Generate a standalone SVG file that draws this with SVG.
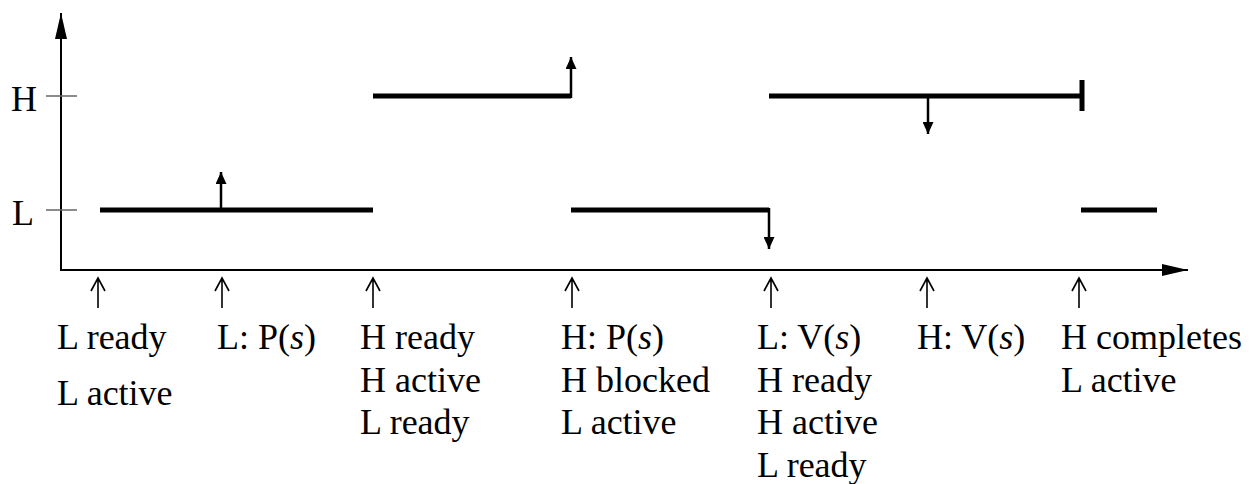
<svg xmlns="http://www.w3.org/2000/svg" width="1260" height="484" viewBox="0 0 1260 484">
  <style>
    .lbl { font-family: "Liberation Serif", "Times New Roman", serif; font-size: 36px; fill: #000; }
    .axis { stroke: #000; stroke-width: 2; fill: none; }
    .tick { stroke: #666; stroke-width: 1.5; fill: none; }
    .run { stroke: #000; stroke-width: 5; fill: none; }
    .evt { stroke: #000; stroke-width: 2.5; fill: none; }
    .mark { stroke: #000; stroke-width: 1.6; fill: none; }
  </style>
  <defs>
    <marker id="axisHead" viewBox="0 0 26 12" refX="26" refY="6" markerWidth="26" markerHeight="12" markerUnits="userSpaceOnUse" orient="auto">
      <path d="M0,0 L26,6 L0,12 Z" fill="#000"/>
    </marker>
    <marker id="evtHead" viewBox="0 0 12 11" refX="12" refY="5.5" markerWidth="12" markerHeight="11" markerUnits="userSpaceOnUse" orient="auto">
      <path d="M0,0 L12,5.5 L0,11 Z" fill="#000"/>
    </marker>
  </defs>

  <!-- axes and priority ticks -->
  <g id="axes">
    <line class="axis" x1="61" y1="270" x2="61" y2="13" marker-end="url(#axisHead)"/>
    <line class="axis" x1="60" y1="270" x2="1188" y2="270" marker-end="url(#axisHead)"/>
    <line class="tick" x1="46" y1="96" x2="77" y2="96"/>
    <line class="tick" x1="46" y1="210" x2="77" y2="210"/>
    <text class="lbl" x="11" y="111">H</text>
    <text class="lbl" x="12" y="225">L</text>
  </g>

  <!-- execution segments and events -->
  <g id="connectors">
    <line class="run" x1="100" y1="210" x2="373" y2="210"/>
    <line class="evt" x1="221" y1="210" x2="221" y2="172" marker-end="url(#evtHead)"/>
    <path class="run" d="M373,96 H571"/>
    <line class="evt" x1="571" y1="98" x2="571" y2="57" marker-end="url(#evtHead)"/>
    <path class="run" d="M571,210 H769"/>
    <line class="evt" x1="769" y1="208" x2="769" y2="249" marker-end="url(#evtHead)"/>
    <path class="run" d="M769,96 H1082"/>
    <line class="run" x1="1082" y1="80" x2="1082" y2="111"/>
    <line class="evt" x1="928" y1="96" x2="928" y2="134" marker-end="url(#evtHead)"/>
    <path class="run" d="M1081,210 H1157"/>
  </g>

  <!-- event markers under the time axis -->
  <g id="markers">
    <path class="mark" d="M98,308 V278 M91,291 L98,278 L105,291"/>
    <path class="mark" d="M222,308 V278 M215,291 L222,278 L229,291"/>
    <path class="mark" d="M373,308 V278 M366,291 L373,278 L380,291"/>
    <path class="mark" d="M572,308 V278 M565,291 L572,278 L579,291"/>
    <path class="mark" d="M771,308 V278 M764,291 L771,278 L778,291"/>
    <path class="mark" d="M927,308 V278 M920,291 L927,278 L934,291"/>
    <path class="mark" d="M1079,308 V278 M1072,291 L1079,278 L1086,291"/>
  </g>

  <g id="ev1">
    <text class="lbl" x="57" y="349">L ready</text>
    <text class="lbl" x="57" y="405">L active</text>
  </g>
  <g id="ev2">
    <text class="lbl" x="217" y="349">L: P(<tspan font-style="italic">s</tspan>)</text>
  </g>
  <g id="ev3">
    <text class="lbl" x="360" y="349">H ready</text>
    <text class="lbl" x="360" y="391.5">H active</text>
    <text class="lbl" x="360" y="434">L ready</text>
  </g>
  <g id="ev4">
    <text class="lbl" x="561" y="349">H: P(<tspan font-style="italic">s</tspan>)</text>
    <text class="lbl" x="561" y="391.5">H blocked</text>
    <text class="lbl" x="561" y="434">L active</text>
  </g>
  <g id="ev5">
    <text class="lbl" x="757" y="349">L: V(<tspan font-style="italic">s</tspan>)</text>
    <text class="lbl" x="757" y="391.5">H ready</text>
    <text class="lbl" x="757" y="434">H active</text>
    <text class="lbl" x="757" y="476.5">L ready</text>
  </g>
  <g id="ev6">
    <text class="lbl" x="917" y="349">H: V(<tspan font-style="italic">s</tspan>)</text>
  </g>
  <g id="ev7">
    <text class="lbl" x="1061" y="349">H completes</text>
    <text class="lbl" x="1061" y="391.5">L active</text>
  </g>
</svg>
